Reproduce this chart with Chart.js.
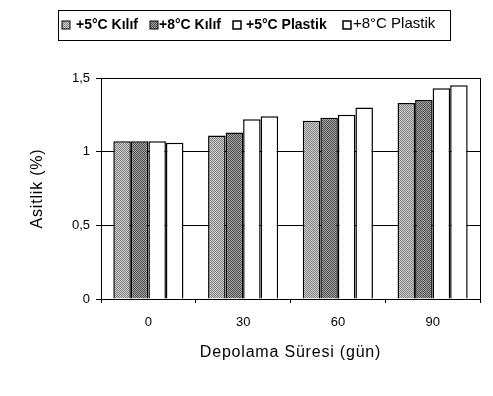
<!DOCTYPE html>
<html>
<head>
<meta charset="utf-8">
<script src="https://cdn.jsdelivr.net/npm/chart.js@4.4.0/dist/chart.umd.min.js"></script>
<style>
    html, body { margin: 0; padding: 0; background: #fff; }
    #wrap { width: 493px; height: 396px; }
</style>
</head>
<body>
<div id="wrap"><canvas id="chart" width="493" height="396"></canvas></div>
<script>
var categories = ["0", "30", "60", "90"];
var seriesLabels = ["+5°C Kılıf", "+8°C Kılıf", "+5°C Plastik", "+8°C Plastik"];
var kilif5 = [1.07, 1.11, 1.21, 1.33];
var kilif8 = [1.07, 1.13, 1.23, 1.35];
var plastik5 = [1.07, 1.22, 1.25, 1.43];
var plastik8 = [1.06, 1.24, 1.30, 1.45];
var yTicks = [0, 0.5, 1, 1.5];

var FONT = "'Liberation Sans', Arial, sans-serif";

// small checker pattern to mimic the printed stipple
function makePattern(c1, c2) {
    var p = document.createElement("canvas");
    p.width = 2;
    p.height = 2;
    var pc = p.getContext("2d");
    pc.fillStyle = c1;
    pc.fillRect(0, 0, 2, 2);
    pc.fillStyle = c2;
    pc.fillRect(0, 0, 1, 1);
    pc.fillRect(1, 1, 1, 1);
    return pc.createPattern(p, "repeat");
}

var lightFill = makePattern("#d0d0d0", "#808080");
var darkFill = makePattern("#a8a8a8", "#4a4a4a");
var fills = [lightFill, darkFill, "#ffffff", "#ffffff"];

// legend item layout: swatch left, text left, font
var legendSwatchX = [62, 150, 233, 343];
var legendTextX = [76, 159, 246, 353];
var legendFont = ["bold 14px", "bold 14px", "bold 14px", "15px"];

// spread the axis titles a little like the scanned print
function spacedTitle(s) {
    if (s._spaced) return;
    s._spaced = true;
    var orig = s.drawTitle;
    s.drawTitle = function () {
        this.ctx.save();
        this.ctx.letterSpacing = "0.8px";
        orig.call(this);
        this.ctx.restore();
    };
}

var legendBox = {
    id: "legendBox",
    afterDraw(chart) {
        var ctx = chart.ctx;
        ctx.save();
        ctx.strokeStyle = "#000";
        ctx.lineWidth = 1;
        ctx.strokeRect(58.5, 10.5, 392, 30);

        var cy = 25;
        chart.data.datasets.forEach((ds, i) => {
            var x = legendSwatchX[i];
            ctx.fillStyle = ds.backgroundColor;
            ctx.fillRect(x, cy - 4, 8, 8);
            ctx.lineWidth = i >= 2 ? 1.5 : 1;
            ctx.strokeStyle = "#000";
            ctx.strokeRect(x, cy - 4, 8, 8);
            ctx.font = legendFont[i] + " " + FONT;
            ctx.fillStyle = "#000";
            ctx.textBaseline = "middle";
            ctx.fillText(ds.label, legendTextX[i], cy - (i === 3 ? 1 : 0));
        });

        // right frame of the plot
        var a = chart.chartArea;
        ctx.lineWidth = 1;
        ctx.beginPath();
        ctx.moveTo(a.right + 0.5, a.top);
        ctx.lineTo(a.right + 0.5, a.bottom);
        ctx.stroke();
        ctx.restore();
    }
};

var values = [kilif5, kilif8, plastik5, plastik8];

new Chart(document.getElementById("chart"), {
    type: "bar",
    data: {
        labels: categories,
        datasets: values.map((v, i) => ({
            label: seriesLabels[i],
            data: v,
            backgroundColor: fills[i],
            borderColor: "#000",
            borderWidth: 1.5,
            categoryPercentage: 0.74,
            barPercentage: 1.0
        }))
    },
    options: {
        responsive: false,
        animation: false,
        devicePixelRatio: 1,
        layout: { padding: { top: 78, right: 13, left: 0, bottom: 0 } },
        plugins: {
            legend: { display: false },
            tooltip: { enabled: false }
        },
        scales: {
            x: {
                grid: {
                    drawOnChartArea: false,
                    drawTicks: true,
                    tickLength: 4,
                    color: "#000"
                },
                border: { color: "#000", width: 1 },
                ticks: {
                    color: "#000",
                    font: { family: FONT, size: 13 },
                    padding: 12
                },
                title: {
                    display: true,
                    text: "Depolama Süresi (gün)",
                    color: "#000",
                    font: { family: FONT, size: 16 },
                    padding: { top: 0, bottom: 34 }
                },
                afterFit(s) { s.height = 97; spacedTitle(s); }
            },
            y: {
                min: 0,
                max: 1.5,
                afterBuildTicks(s) { s.ticks = yTicks.map(v => ({ value: v })); },
                grid: {
                    color: "#000",
                    tickLength: 5,
                    drawTicks: true
                },
                border: { color: "#000", width: 1 },
                ticks: {
                    color: "#000",
                    font: { family: FONT, size: 13 },
                    padding: 6,
                    callback: v => String(v).replace(".", ",")
                },
                title: {
                    display: true,
                    text: "Asitlik (%)",
                    color: "#000",
                    font: { family: FONT, size: 16 },
                    padding: { top: 28, bottom: 0 }
                },
                afterFit(s) { s.width = 101; spacedTitle(s); }
            }
        }
    },
    plugins: [legendBox]
});
</script>
</body>
</html>
